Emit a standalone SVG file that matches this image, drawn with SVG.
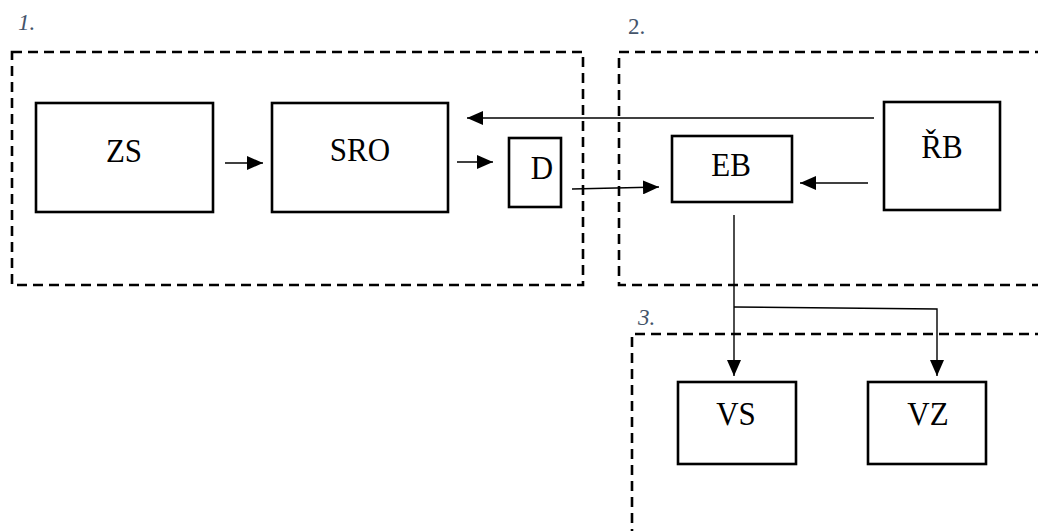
<svg xmlns="http://www.w3.org/2000/svg" width="1038" height="531" viewBox="0 0 1038 531">
<style>
.grp{fill:none;stroke:#000;stroke-width:2.6;stroke-dasharray:10 6}
.box{fill:#fff;stroke:#000;stroke-width:2.6}
.lbl{font-size:31px;fill:#000;text-anchor:middle}
.cap{font-size:23px;fill:#44546A}
.con{fill:none;stroke:#000;stroke-width:1.4}
</style>
<defs>
<marker id="ah" markerUnits="userSpaceOnUse" markerWidth="16" markerHeight="14" refX="16" refY="7" orient="auto">
<path d="M0,0 L16,7 L0,14 Z" fill="#000"/>
</marker>
</defs>
<g id="regions" font-family="'Liberation Serif', 'Times New Roman', 'DejaVu Serif', serif">
<rect class="grp" x="12" y="52" width="571" height="233"/>
<path class="grp" d="M1045,52 H619 V285 H1045"/>
<path class="grp" d="M1045,334 H632 V540"/>
<text class="cap" x="18" y="30" font-style="italic">1.</text>
<text class="cap" x="628" y="34">2.</text>
<text class="cap" x="638" y="325" font-style="italic">3.</text>
</g>
<g font-family="'Liberation Serif', 'Times New Roman', 'DejaVu Serif', serif">
<g id="ZS"><rect class="box" x="36" y="103" width="177" height="109"/><text class="lbl" transform="translate(124,162) scale(1,1.1)">ZS</text></g>
<g id="SRO"><rect class="box" x="272" y="103" width="176" height="109"/><text class="lbl" transform="translate(360,161) scale(1,1.1)">SRO</text></g>
<g id="D"><rect class="box" x="509" y="138" width="52" height="69"/><text class="lbl" transform="translate(542,179) scale(1,1.1)">D</text></g>
<g id="EB"><rect class="box" x="672" y="136" width="120" height="66"/><text class="lbl" transform="translate(731,176) scale(1,1.1)">EB</text></g>
<g id="RB"><rect class="box" x="884" y="102" width="116" height="108"/><text class="lbl" transform="translate(942,158) scale(1,1.1)">ŘB</text></g>
<g id="VS"><rect class="box" x="678" y="382" width="118" height="82"/><text class="lbl" transform="translate(736,425) scale(1,1.1)">VS</text></g>
<g id="VZ"><rect class="box" x="868" y="382" width="118" height="82"/><text class="lbl" transform="translate(928,425) scale(1,1.1)">VZ</text></g>
</g>
<g id="connectors">
<line class="con" x1="225" y1="163" x2="263" y2="163" marker-end="url(#ah)"/>
<line class="con" x1="457" y1="162" x2="493" y2="162" marker-end="url(#ah)"/>
<line class="con" x1="874" y1="118" x2="467" y2="118" marker-end="url(#ah)"/>
<line class="con" x1="572" y1="189" x2="659" y2="187" marker-end="url(#ah)"/>
<line class="con" x1="868" y1="183" x2="800" y2="183" marker-end="url(#ah)"/>
<path class="con" d="M734,215 V376" marker-end="url(#ah)"/>
<path class="con" d="M734,307 L937,309 V376" marker-end="url(#ah)"/>
</g>
</svg>
